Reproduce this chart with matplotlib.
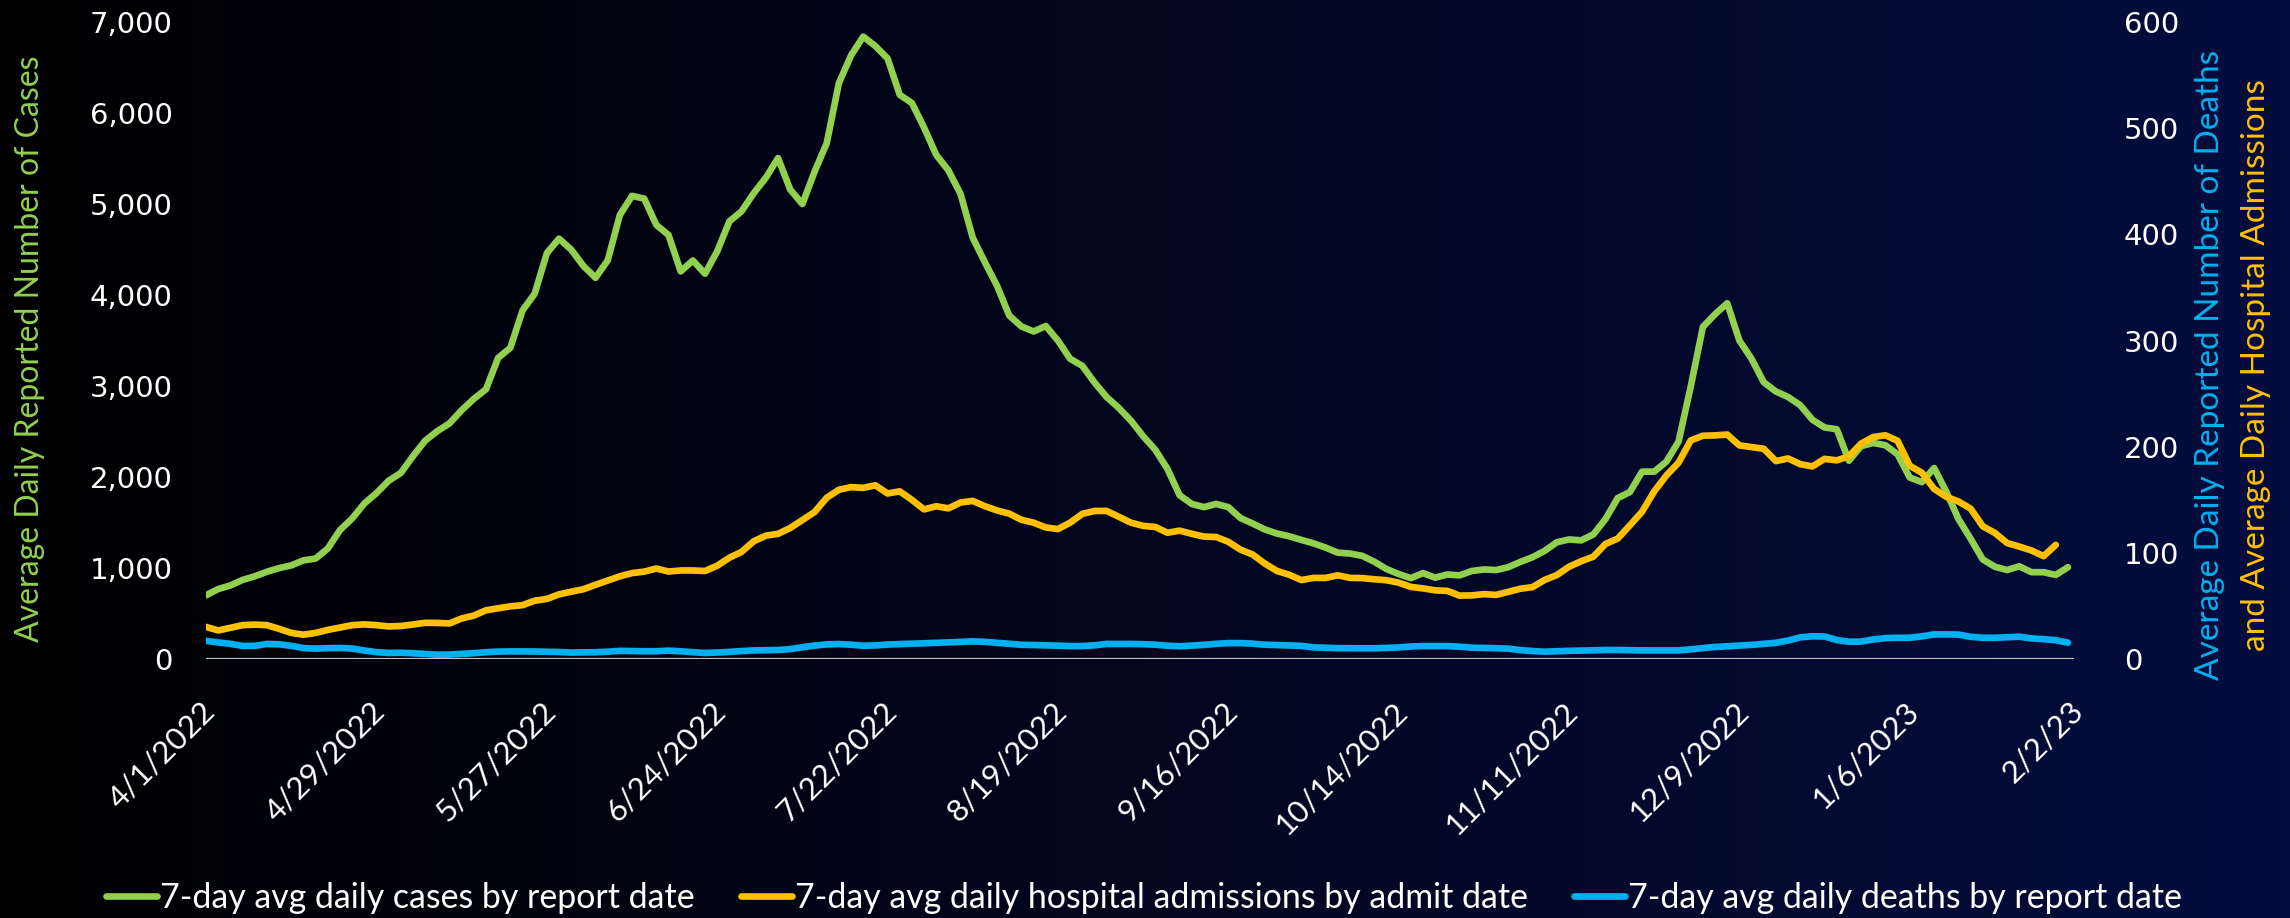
import numpy as np
import pandas as pd
import matplotlib
matplotlib.use("Agg")
import matplotlib.pyplot as plt
from matplotlib.transforms import ScaledTranslation

# ---------------- data (every 2 days starting 4/1/2022) ----------------
start_date = "2022-04-01"
cases = [702, 770, 810, 870, 910, 960, 1000, 1030, 1085, 1105,
         1215, 1418, 1545, 1710, 1824, 1960, 2045, 2230, 2400, 2505,
         2590, 2735, 2860, 2965, 3310, 3420, 3830, 4015, 4460, 4620,
         4500, 4321, 4190, 4380, 4880, 5090, 5060, 4770, 4660, 4260,
         4380, 4235, 4480, 4810, 4920, 5119, 5290, 5505, 5160, 5000,
         5355, 5668, 6330, 6633, 6840, 6735, 6600, 6200, 6110, 5840,
         5540, 5370, 5110, 4630, 4360, 4100, 3775, 3655, 3600, 3660,
         3500, 3300, 3223, 3040, 2880, 2760, 2620, 2450, 2300, 2090,
         1800, 1705, 1670, 1705, 1670, 1550, 1490, 1425, 1380, 1350,
         1310, 1272, 1225, 1170, 1160, 1135, 1070, 990, 935, 890,
         945, 895, 930, 920, 968, 985, 979, 1010, 1068, 1120,
         1190, 1284, 1315, 1305, 1370, 1540, 1770, 1835, 2060, 2060,
         2170, 2390, 2994, 3650, 3790, 3910, 3500, 3300, 3042, 2940,
         2880, 2790, 2630, 2545, 2526, 2180, 2340, 2375, 2350, 2250,
         1995, 1945, 2100, 1840, 1540, 1323, 1095, 1015, 979, 1020,
         955, 955, 925, 1010]
admissions = [30.3, 27, 29.5, 32, 32.5, 32, 28.5, 24.7, 23, 24.7,
              27.5, 29.7, 32, 32.7, 32, 30.8, 31.2, 32.6, 34.2, 34.1,
              33.6, 38.3, 41, 46, 47.8, 49.7, 50.8, 55, 56.7, 61,
              63.5, 65.8, 70, 74, 78, 81, 82.4, 85.3, 82.5, 83.5,
              83.5, 83, 88, 95.5, 101, 111, 116.3, 118, 123.5, 131,
              138.5, 152, 159.5, 162, 161.3, 163.7, 156, 158, 150, 141,
              144, 142, 147.5, 149, 144, 140, 137, 131.2, 128.5, 124,
              122.5, 128.5, 136.8, 139.5, 139.6, 134, 128.5, 125.5, 124.5, 119,
              121, 118, 115.4, 115, 110.5, 103.1, 98.5, 90, 83, 79.5,
              74.5, 76.5, 76.5, 78.9, 76.5, 76.3, 75.2, 74.3, 72, 68,
              66.6, 64.8, 64.3, 59.8, 60, 61.2, 60.5, 63.3, 66.3, 67.8,
              74.6, 79.2, 87, 92.2, 96.5, 108.5, 113.5, 126, 138.8, 158,
              173, 185, 206, 210.4, 210.7, 211.5, 201.3, 199.7, 198.1, 186.5,
              189, 183.6, 181.5, 188.6, 187.2, 191, 203, 209.2, 210.8, 205.6,
              182.1, 175.5, 160.3, 152.8, 148.5, 141.7, 125.1, 118.8, 109.3, 106,
              102.3, 97, 107.6, np.nan]
deaths = [17.2, 15.7, 14.4, 12.4, 12.5, 14.3, 14, 12.5, 10.4, 9.9,
          10.3, 10.5, 10, 8.1, 6.6, 5.8, 6, 5.5, 4.8, 4.2,
          4.3, 4.9, 5.6, 6.5, 7.1, 7.3, 7.3, 7.2, 7.0, 6.7,
          6.2, 6.3, 6.5, 7, 7.8, 7.6, 7.4, 7.4, 8, 7.4,
          6.5, 5.8, 6.2, 6.8, 7.6, 8.2, 8.4, 8.6, 9.4, 11.2,
          12.7, 13.9, 14.2, 13.6, 12.6, 12.9, 13.7, 14.2, 14.5, 14.9,
          15.3, 15.8, 16.3, 16.7, 16.3, 15.4, 14.4, 13.5, 13.3, 13.0,
          12.7, 12.3, 12.3, 13, 14.3, 14.3, 14.3, 14.1, 13.6, 12.6,
          12.1, 12.8, 13.4, 14.4, 15.1, 15.1, 14.6, 13.6, 13.2, 12.9,
          12.5, 11.1, 10.7, 10.3, 10.2, 10.2, 10.2, 10.6, 11.0, 11.9,
          12.3, 12.3, 12.3, 11.7, 10.8, 10.6, 10.3, 9.9, 8.5, 7.6,
          7.0, 7.4, 7.8, 8, 8.3, 8.6, 8.6, 8.4, 8.2, 8.2,
          8.2, 8.2, 9.2, 10.4, 11.4, 12.1, 12.7, 13.4, 14.4, 15.4,
          17.5, 20.5, 21.5, 21.3, 18, 16.4, 16.5, 18.5, 19.8, 20.1,
          20.1, 21.5, 23.3, 23.3, 23.1, 21, 20.1, 20.1, 20.6, 21.1,
          19.5, 18.8, 17.8, 15.5]
tick_dates = ["2022-04-01", "2022-04-29", "2022-05-27", "2022-06-24", "2022-07-22",
              "2022-08-19", "2022-09-16", "2022-10-14", "2022-11-11", "2022-12-09",
              "2023-01-06", "2023-02-02"]
tick_labels = ["4/1/2022", "4/29/2022", "5/27/2022", "6/24/2022", "7/22/2022",
               "8/19/2022", "9/16/2022", "10/14/2022", "11/11/2022", "12/9/2022",
               "1/6/2023", "2/2/23"]
left_ticks = [0, 1000, 2000, 3000, 4000, 5000, 6000, 7000]
right_ticks = [0, 100, 200, 300, 400, 500, 600]

dates = pd.date_range(start_date, periods=len(cases), freq="2D")

GREEN = "#92d050"
ORANGE = "#ffc000"
BLUE = "#00b0f0"
TXT_FONT = ["Lato", "DejaVu Sans"]

fig = plt.figure(figsize=(22.9, 9.18), dpi=100)

# gradient background
bg = fig.add_axes([0, 0, 1, 1], zorder=-10)
grad = np.linspace(0, 1, 512)[None, :, None]
c0 = np.array([0, 0, 0]) / 255.0
c1 = np.array([4, 13, 62]) / 255.0
img = c0 + (c1 - c0) * grad
bg.imshow(img, aspect="auto", extent=[0, 1, 0, 1])
bg.axis("off")

ax = fig.add_axes([0.090, 0.282, 0.8157, 0.694])
ax.patch.set_alpha(0)
ax2 = ax.twinx()
ax2.patch.set_alpha(0)

lw = 4.8
l1, = ax.plot(dates, cases, color=GREEN, lw=lw, solid_capstyle="round",
              label="7-day avg daily cases by report date", zorder=3)
l2, = ax2.plot(dates, admissions, color=ORANGE, lw=lw, solid_capstyle="round",
               label="7-day avg daily hospital admissions by admit date", zorder=3)
l3, = ax2.plot(dates, deaths, color=BLUE, lw=lw, solid_capstyle="round",
               label="7-day avg daily deaths by report date", zorder=3)

xmin = pd.Timestamp(start_date)
xmax = pd.Timestamp(tick_dates[-1])
ax.set_xlim(xmin, xmax)
ax.set_ylim(0, 7000)
ax2.set_ylim(0, 600)

ax.axhline(0, color="#bfbfbf", lw=1.6, zorder=2)

for a in (ax, ax2):
    for s in a.spines.values():
        s.set_visible(False)

ax.set_yticks(left_ticks)
ax.set_yticklabels([f"{v:,}" for v in left_ticks])
ax2.set_yticks(right_ticks)
ax2.set_yticklabels([str(v) for v in right_ticks])
ax.tick_params(axis="y", length=0, pad=24, labelcolor="white", labelsize=21)
ax2.tick_params(axis="y", length=0, pad=36, labelcolor="white", labelsize=21)
for t in ax.get_yticklabels() + ax2.get_yticklabels():
    t.set_fontfamily("DejaVu Sans")

ax.set_xticks(pd.to_datetime(tick_dates))
ax.set_xticklabels(tick_labels)
ax.tick_params(axis="x", length=0, pad=27, labelcolor="white", labelsize=22.5)
off = ScaledTranslation(14 / 100, 0, fig.dpi_scale_trans)
for t in ax.get_xticklabels():
    t.set_rotation(45)
    t.set_ha("right")
    t.set_va("top")
    t.set_fontfamily(TXT_FONT)
    t.set_transform(t.get_transform() + off)

# axis titles
fig.text(0.0131, 0.62, "Average Daily Reported Number of Cases", rotation=90,
         color=GREEN, fontsize=23, family=TXT_FONT, ha="center", va="center")
fig.text(0.9650, 0.602, "Average Daily Reported Number of Deaths", rotation=90,
         color=BLUE, fontsize=24, family=TXT_FONT, ha="center", va="center")
fig.text(0.9850, 0.602, "and Average Daily Hospital Admissions", rotation=90,
         color=ORANGE, fontsize=24, family=TXT_FONT, ha="center", va="center")

leg = fig.legend(handles=[l1, l2, l3], loc="center", bbox_to_anchor=(0.4996, 0.022),
                 ncol=3, frameon=False, handlelength=1.5,
                 handletextpad=0.1, columnspacing=1.35,
                 prop={"family": TXT_FONT, "size": 24.4})
for t in leg.get_texts():
    t.set_color("white")

fig.savefig("out.png", dpi=100)
